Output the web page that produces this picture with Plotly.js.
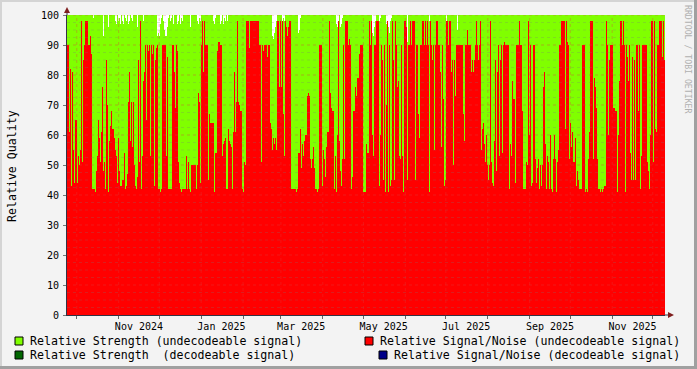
<!DOCTYPE html>
<html>
<head>
<meta charset="utf-8">
<script src="https://cdn.plot.ly/plotly-3.0.1.min.js"></script>
<style>html,body{margin:0;padding:0;background:#f3f3f3;}#chart{width:697px;height:369px;}</style>
</head>
<body>
<div id="chart"></div>
<script>
// ---- data: one value per graph column (RRD consolidated), Sep 2024 .. Dec 2025 ----
const seriesStart = '2024-09-23T19:00:00Z';
const seriesStepHours = 17.75;

// Relative Signal/Noise (undecodeable signal)
const snrSepNov = [90,90,61,82,43,81,55,44,65,65,44,53,50,55,98,51,85,90,98,98,98,90,90,93,87,42,42,42,41,48,53,65,59,51,61,76,48,51,42,85,70,41,58,63,68,62,62,59,55,53,44,59,48,43,43,45,45,54,42,43,47,71,81,58,71,56,71,50,43,42,46,85,51,98,42,53,78,81,90,65,90,88,90,53,90,87,90,43,85,89,90,42,42,41,42,90,90,90,90];
const snrNovFeb = [53,86,42,42,42,42,90,90,81,69,90,88,51,44,42,41,42,42,42,42,53,42,51,42,41,50,50,50,50,50,42,50,74,71,44,90,98,81,98,90,90,90,45,67,64,64,64,64,41,54,54,88,91,91,90,90,53,57,58,59,42,42,62,58,57,56,42,61,81,61,71,98,71,70,68,68,42,41,51,50,98,98,98,89,98,98,98,98,98,98,98,98,98,90,90,51,90,88,90,90];
const snrFebApr = [90,86,90,90,64,62,55,59,57,59,55,98,98,76,98,76,98,67,53,98,96,93,96,98,98,42,42,42,42,42,41,42,54,54,62,49,57,53,58,60,60,73,74,73,52,49,52,56,49,42,42,41,42,90,90,90,43,55,52,46,56,61,61,98,74,69,68,68,42,53,41,60,98,58,48,43,52,90,52,98,98,98,90,92,90,42,46,68,68,76,73,79,79,87,90,90,90,41,41,41];
const snrAprJul = [57,54,54,98,90,98,60,53,90,90,98,98,98,43,60,90,85,45,90,41,70,98,41,90,43,45,98,85,45,98,90,76,78,53,52,90,53,41,98,98,96,45,90,90,98,90,98,98,98,45,90,90,67,59,90,90,98,98,90,98,90,98,90,41,98,90,85,90,55,90,98,98,90,90,81,56,90,72,43,45,98,98,90,98,98,81,85,50,85,73,90,90,90,90,90,90,90,67,58,90];
const snrJulSep = [90,95,90,90,90,81,85,81,85,90,98,90,85,90,98,55,62,64,57,51,60,50,45,50,98,51,44,43,58,85,48,81,90,53,85,90,54,90,91,90,90,90,90,42,57,53,78,72,72,44,90,90,90,98,90,90,68,42,42,42,51,50,98,60,90,43,44,90,90,52,44,49,52,42,50,43,50,76,81,57,42,53,51,42,60,42,41,52,60,52,41,51,55,90,90,98,98,98,98,62];
const snrSepDec = [98,91,90,52,64,56,61,51,51,59,43,48,45,42,42,42,90,90,90,41,42,41,52,61,98,98,98,52,79,76,69,52,42,42,41,42,41,42,43,43,98,90,60,85,90,90,90,69,69,68,68,41,60,78,98,98,90,98,90,41,90,86,78,90,54,45,86,45,85,45,90,90,68,90,42,53,90,90,90,90,90,51,48,42,60,98,98,51,98,62,61,90,90,98,98,98,86,98,85];

// Relative Strength (undecodeable signal)
const strSepNov = [100,100,100,100,100,100,100,100,100,100,100,100,100,100,100,100,100,100,100,100,100,100,100,100,100,100,99,100,100,100,100,100,100,100,100,100,93,100,100,100,100,96,100,100,100,100,100,100,98,97,100,98,99,97,100,98,97,100,99,98,100,97,98,100,99,98,100,100,100,100,96,100,100,100,100,100,98,100,100,100,100,100,100,100,100,100,100,100,100,100,93,94,93,97,99,100,98,95,93];
const strNovFeb = [93,96,99,100,98,99,100,97,100,100,100,97,98,100,97,99,98,100,100,100,100,100,100,100,96,100,100,100,100,100,100,98,97,99,98,100,100,100,100,100,100,100,100,100,100,100,100,98,97,99,100,100,100,100,97,98,100,97,99,98,100,98,100,100,100,100,100,100,100,100,100,100,100,100,100,100,100,100,100,100,100,100,100,100,100,100,100,100,100,100,100,100,100,100,100,100,100,100,100,100];
const strFebApr = [100,100,100,100,100,100,93,92,94,96,98,100,100,100,100,100,98,99,98,100,100,100,100,100,100,100,100,100,100,100,100,100,94,95,99,100,100,100,100,100,100,100,100,100,100,100,100,100,100,100,100,100,100,100,100,100,100,100,100,100,100,100,100,100,100,100,100,100,100,100,97,96,98,100,96,97,99,100,100,100,100,100,100,100,100,100,100,100,100,100,100,100,100,100,100,100,100,100,100,100];
const strAprJul = [100,100,100,100,100,100,94,93,96,98,100,100,100,98,99,100,100,100,100,100,97,95,96,94,98,99,100,100,100,100,100,100,100,100,100,100,100,100,100,100,100,91,100,100,100,100,100,100,100,100,100,100,100,100,100,100,100,100,100,100,100,100,100,98,100,100,100,100,100,100,100,100,100,100,100,100,100,100,100,100,97,100,100,100,100,100,100,100,100,100,100,95,100,100,100,100,100,100,100,100];
const strJulSep = [100,100,100,100,100,100,100,100,100,100,100,100,100,100,100,100,100,100,100,100,100,100,100,100,100,100,100,100,100,100,100,100,100,100,100,100,100,100,100,100,100,100,100,100,100,100,100,100,100,100,100,100,100,100,100,100,100,100,100,100,100,100,100,100,100,100,100,100,100,100,100,100,100,100,100,100,100,100,100,100,100,100,100,100,100,100,100,100,100,100,100,100,100,100,100,100,100,100,100,100];
const strSepDec = [100,100,100,100,100,100,100,100,100,100,100,100,100,100,100,100,100,100,100,100,100,100,100,100,100,100,100,100,100,100,100,100,100,100,100,100,100,100,100,100,100,100,100,100,100,100,100,100,100,100,100,100,100,100,100,100,100,100,100,100,100,100,100,100,100,100,100,100,100,100,100,100,100,100,100,100,100,100,100,100,100,100,100,100,100,100,100,100,100,100,100,100,100,100,100,100,100,100,100];

const tickDates = ['2024-11-16','2025-01-16','2025-03-16','2025-05-16','2025-07-16','2025-09-16','2025-11-16'];
const tickLabels = ['Nov 2024','Jan 2025','Mar 2025','May 2025','Jul 2025','Sep 2025','Nov 2025'];
const monthStarts = ['2024-10-01','2024-11-01','2024-12-01','2025-01-01','2025-02-01','2025-03-01','2025-04-01','2025-05-01','2025-06-01','2025-07-01','2025-08-01','2025-09-01','2025-10-01','2025-11-01','2025-12-01'];
const yTicks = [0,10,20,30,40,50,60,70,80,90,100];

const legendLabels = ['Relative Strength (undecodeable signal)','Relative Signal/Noise (undecodeable signal)','Relative Strength\u00a0\u00a0(decodeable signal)','Relative Signal/Noise (decodeable signal)'];
const legendColors = ['#80ff00','#ff0000','#006600','#000088'];

// ---- build ----
const snr = [].concat(snrSepNov, snrNovFeb, snrFebApr, snrAprJul, snrJulSep, snrSepDec);
const str = [].concat(strSepNov, strNovFeb, strFebApr, strAprJul, strJulSep, strSepDec);
const t0 = Date.parse(seriesStart);
const dt = seriesStepHours * 3600 * 1000;
const n = snr.length;
const fmt = ms => new Date(ms).toISOString().slice(0, 19).replace('T', ' ');
const xs = [];
for (let i = 0; i <= n; i++) xs.push(fmt(t0 + i * dt));
const snrY = snr.concat([snr[n - 1]]);
const strY = str.concat([str[n - 1]]);
const xEnd = xs[n];

// pixel -> paper helpers (plot area 67..665 x 15..315)
const PL = 67, PR = 665, PT = 15, PB = 315;
const PX = p => (p - PL) / (PR - PL);
const PY = p => (PB - p) / (PB - PT);

const FONT = 'DejaVu Sans Mono';
const shapes = [];
// grid above data (rrdtool style)
for (let k = 1; k <= 40; k++) {
  const v = k * 2.5;
  const major = (k % 4) === 0;
  shapes.push({type:'line', xref:'paper', yref:'y', x0:0, x1:1, y0:v, y1:v, layer:'above',
    line:{color: major ? 'rgba(220,60,60,0.4)' : 'rgba(120,120,120,0.25)', width:1, dash:'dot'}});
}
monthStarts.forEach(d => {
  shapes.push({type:'line', xref:'x', yref:'paper', x0:d, x1:d, y0:0, y1:1, layer:'above',
    line:{color:'rgba(220,60,60,0.35)', width:1, dash:'dot'}});
});
// axis extensions and arrows
shapes.push({type:'line', xref:'paper', yref:'paper', x0:0, x1:0, y0:1, y1:PY(9), line:{color:'#333344', width:1}});
shapes.push({type:'line', xref:'paper', yref:'paper', x0:1, x1:PX(670), y0:0, y1:0, line:{color:'#333344', width:1}});
shapes.push({type:'path', xref:'paper', yref:'paper', fillcolor:'#7f1f1f', line:{width:0},
  path:`M${PX(64)},${PY(13)} L${PX(70)},${PY(13)} L${PX(67)},${PY(7)} Z`});
shapes.push({type:'path', xref:'paper', yref:'paper', fillcolor:'#7f1f1f', line:{width:0},
  path:`M${PX(668)},${PY(312)} L${PX(668)},${PY(318)} L${PX(674)},${PY(315)} Z`});
// frame
shapes.push({type:'rect', xref:'paper', yref:'paper', x0:PX(0), x1:PX(697), y0:PY(0), y1:PY(2), fillcolor:'#d4d4d4', line:{width:0}});
shapes.push({type:'rect', xref:'paper', yref:'paper', x0:PX(0), x1:PX(2), y0:PY(0), y1:PY(369), fillcolor:'#d4d4d4', line:{width:0}});
shapes.push({type:'rect', xref:'paper', yref:'paper', x0:PX(0), x1:PX(697), y0:PY(366), y1:PY(369), fillcolor:'#a0a0a0', line:{width:0}});
shapes.push({type:'rect', xref:'paper', yref:'paper', x0:PX(694), x1:PX(697), y0:PY(0), y1:PY(369), fillcolor:'#a0a0a0', line:{width:0}});

// legend (manual, rrdtool layout)
const legPos = [[15,341,30],[365,341,380],[15,355,30],[379,355,394]];
const annotations = [];
legPos.forEach((p, i) => {
  shapes.push({type:'rect', xref:'paper', yref:'paper', x0:PX(p[0]), x1:PX(p[0]+8), y0:PY(p[1]-4), y1:PY(p[1]+4),
    fillcolor:legendColors[i], line:{color:'#000', width:1}});
  annotations.push({xref:'paper', yref:'paper', x:PX(p[2]), y:PY(p[1]), xanchor:'left', yanchor:'middle',
    text:legendLabels[i], showarrow:false, borderpad:0, borderwidth:0, font:{family:FONT, size:11.6, color:'#000'}});
});
annotations.push({xref:'paper', yref:'paper', x:PX(12), y:PY(166), xanchor:'center', yanchor:'middle', textangle:-90,
  text:'Relative Quality', showarrow:false, borderpad:0, borderwidth:0, font:{family:FONT, size:11.6, color:'#000'}});
annotations.push({xref:'paper', yref:'paper', x:PX(688), y:PY(59), xanchor:'center', yanchor:'middle', textangle:90,
  text:'RRDTOOL / TOBI OETIKER', showarrow:false, borderpad:0, borderwidth:0, font:{family:FONT, size:8.2, color:'#b0b0b0'}});

const traces = [
  {type:'scatter', mode:'lines', x:xs, y:strY, line:{width:0, shape:'hv'}, fill:'tozeroy', fillcolor:'#80ff00', hoverinfo:'skip', name:legendLabels[0]},
  {type:'scatter', mode:'lines', x:xs, y:snrY, line:{width:0, shape:'hv'}, fill:'tozeroy', fillcolor:'#ff0000', hoverinfo:'skip', name:legendLabels[1]}
];

const layout = {
  width:697, height:369,
  margin:{l:PL, r:697-PR, t:PT, b:369-PB, pad:0},
  paper_bgcolor:'#f3f3f3', plot_bgcolor:'#ffffff',
  showlegend:false,
  font:{family:FONT, size:10, color:'#000'},
  xaxis:{type:'date', range:[xs[0], xEnd], tickmode:'array', tickvals:tickDates, ticktext:tickLabels,
    ticks:'', showgrid:false, zeroline:false, showline:true, linecolor:'#333344', linewidth:1,
    tickfont:{family:FONT, size:10, color:'#000'}, ticklabelstandoff:2,
    minor:{tickmode:'linear', tick0:'2024-10-01', dtick:'M1', ticks:'outside', ticklen:3, tickcolor:'#666', showgrid:false}},
  yaxis:{range:[0,100], tickmode:'array', tickvals:yTicks, ticktext:yTicks.map(String), ticks:'outside', ticklen:3, tickcolor:'#777',
    showgrid:false, zeroline:false, showline:true, linecolor:'#333344', linewidth:1,
    tickfont:{family:FONT, size:10, color:'#000'}, ticklabelstandoff:2},
  shapes:shapes, annotations:annotations
};

Plotly.newPlot('chart', traces, layout, {staticPlot:true, displayModeBar:false});
</script>
</body>
</html>
